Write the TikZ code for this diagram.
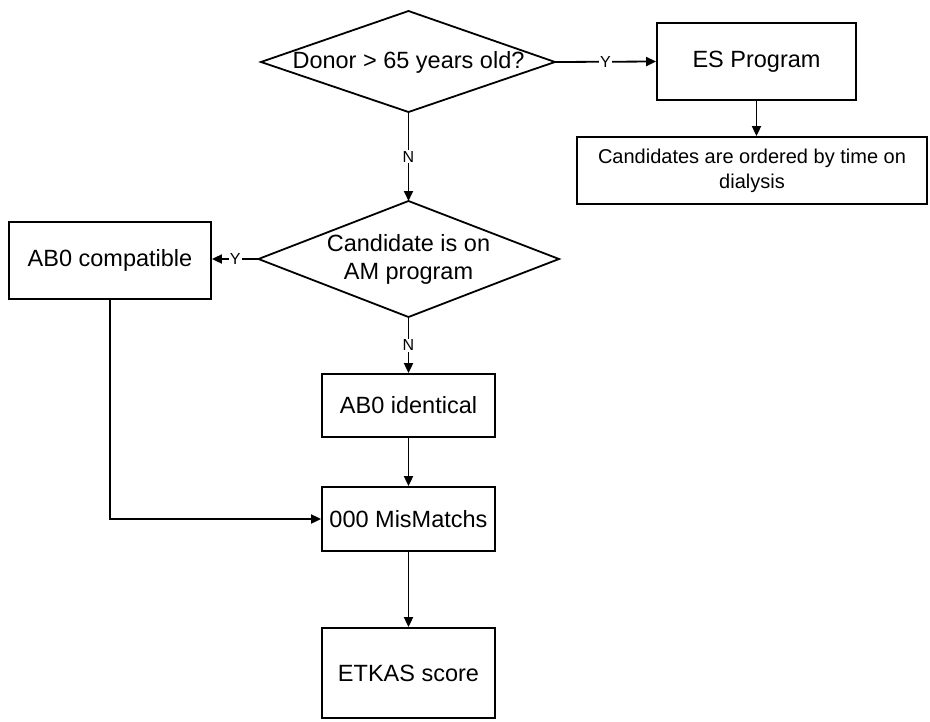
\documentclass[tikz,border=0pt]{standalone}
\usepackage{fontspec}
\setmainfont{Liberation Sans}
\usetikzlibrary{arrows.meta}
\tikzset{
  box/.style={draw, line width=1.8pt, rectangle, inner sep=0pt, align=center, font=\fontsize{23.5}{28}\selectfont},
  txt/.style={inner sep=0pt, align=center, font=\fontsize{23.5}{28}\selectfont},
  dshape/.style={draw, line width=1.8pt, line join=miter},
  conn/.style={line width=1.8pt, -{Triangle[length=10pt,width=9pt]}},
  lbl/.style={fill=white, inner sep=1pt, font=\fontsize{16}{16}\selectfont}
}
\begin{document}
\begin{tikzpicture}[x=1pt,y=-1pt]
\useasboundingbox[fill=white] (0,0) rectangle (930,721);

% decision 1
\node[txt] (d1) at (408.5,62) {Donor > 65 years old?};
\coordinate (d1n) at (408.5,11);
\coordinate (d1e) at (555,62);
\coordinate (d1s) at (408.5,112);
\coordinate (d1w) at (261,62);
\draw[dshape] (d1n) -- (d1e) -- (d1s) -- (d1w) -- cycle;

% ES program
\node[box, minimum width=199pt, minimum height=77pt] (es) at (756.5,61.5) {ES Program};
\node[box, minimum width=350pt, minimum height=67pt, font=\fontsize{20}{25}\selectfont] (cand) at (752,170.5) {Candidates are ordered by time on\\dialysis};

% decision 2
\node[txt] (d2) at (408.5,259) {Candidate is on\\AM program};
\coordinate (d2n) at (408.5,201);
\coordinate (d2e) at (559,259);
\coordinate (d2s) at (408.5,317);
\coordinate (d2w) at (258.5,259);
\draw[dshape] (d2n) -- (d2e) -- (d2s) -- (d2w) -- cycle;

% boxes
\node[box, minimum width=202pt, minimum height=77pt] (abc) at (110,260.5) {AB0 compatible};
\node[box, minimum width=173pt, minimum height=63pt] (abi) at (408.5,405.5) {AB0 identical};
\node[box, minimum width=173pt, minimum height=64pt] (mm) at (408.5,519) {000 MisMatchs};
\node[box, minimum width=173pt, minimum height=90pt] (etk) at (408.5,673) {ETKAS score};

% connectors
\draw[conn] (d1e) -- node[lbl] {Y} (es.west);
\draw[conn] (es.south) -- (es.south |- cand.north);
\draw[conn] (d1s) -- node[lbl] {N} (d2n);
\draw[conn] (d2w) -- node[lbl] {Y} (abc.east |- d2w);
\draw[conn] (d2s) -- node[lbl] {N} (abi.north);
\draw[conn] (abi.south) -- (mm.north);
\draw[conn] (abc.south) |- (mm.west);
\draw[conn] (mm.south) -- (etk.north);
\end{tikzpicture}
\end{document}
